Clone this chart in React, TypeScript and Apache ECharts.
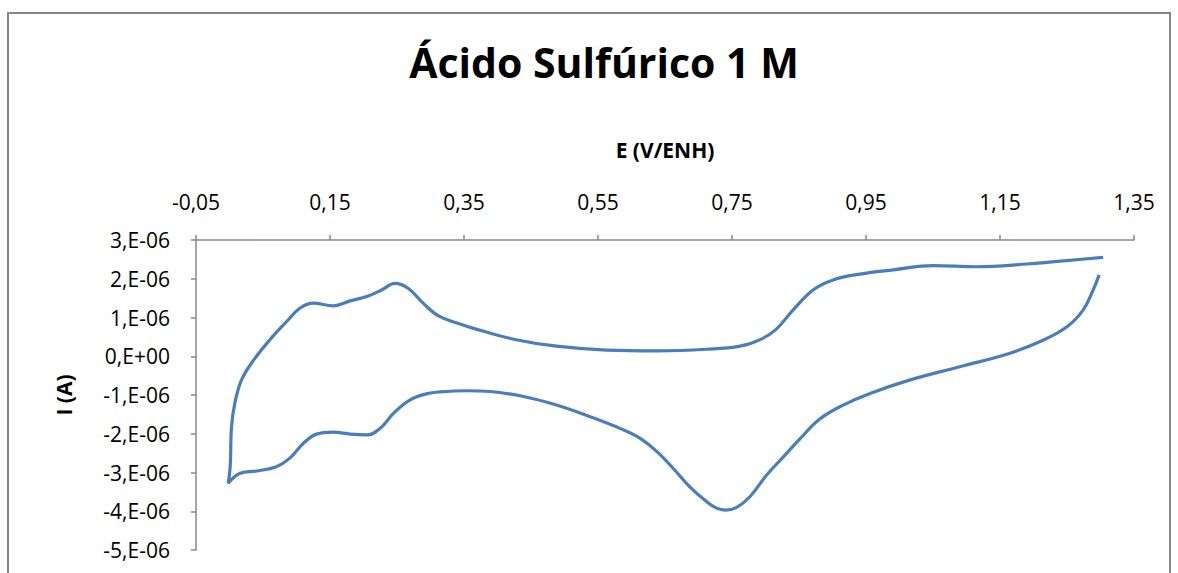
import React, { useEffect, useRef } from "react";
import * as echarts from "echarts";

// Potential E (V/ENH), traced in sweep order (cathodic from 1.30 V, then anodic)
const potential: number[] = [
  1.298, 1.289, 1.274, 1.25, 1.215, 1.165, 1.09, 1.016, 0.956, 0.916, 0.881, 0.852, 0.827,
  0.802, 0.777, 0.757, 0.74, 0.727, 0.712, 0.687, 0.662, 0.638, 0.613, 0.588, 0.538, 0.488,
  0.439, 0.389, 0.354, 0.314, 0.294, 0.269, 0.245, 0.225, 0.205, 0.18, 0.155, 0.13, 0.11,
  0.09, 0.07, 0.041, 0.016, -0.002,
  0.001, 0.003, 0.008, 0.018, 0.036, 0.06, 0.085, 0.105, 0.125, 0.155, 0.18, 0.205, 0.227,
  0.247, 0.267, 0.289, 0.312, 0.344, 0.364, 0.424, 0.488, 0.563, 0.638, 0.712, 0.762, 0.792,
  0.815, 0.84, 0.871, 0.901, 0.941, 0.991, 1.05, 1.115, 1.19, 1.25, 1.304,
];

// Current I (A)
const current: number[] = [
  2.1e-6, 1.71e-6, 1.19e-6, 0.76e-6, 0.42e-6, 0.08e-6, -0.27e-6, -0.61e-6, -0.96e-6,
  -1.26e-6, -1.62e-6, -2.12e-6, -2.59e-6, -3.06e-6, -3.62e-6, -3.9e-6, -3.97e-6, -3.92e-6,
  -3.75e-6, -3.37e-6, -2.89e-6, -2.46e-6, -2.12e-6, -1.9e-6, -1.56e-6, -1.26e-6, -1.04e-6,
  -0.91e-6, -0.89e-6, -0.92e-6, -0.97e-6, -1.13e-6, -1.47e-6, -1.86e-6, -2.03e-6, -2.01e-6,
  -1.96e-6, -2.01e-6, -2.25e-6, -2.63e-6, -2.85e-6, -2.96e-6, -3.02e-6, -3.28e-6,
  -2.85e-6, -1.82e-6, -1.21e-6, -0.61e-6, -0.1e-6, 0.42e-6, 0.89e-6, 1.24e-6, 1.37e-6,
  1.3e-6, 1.43e-6, 1.54e-6, 1.71e-6, 1.88e-6, 1.75e-6, 1.37e-6, 1.04e-6, 0.83e-6, 0.72e-6,
  0.44e-6, 0.26e-6, 0.16e-6, 0.14e-6, 0.18e-6, 0.26e-6, 0.43e-6, 0.68e-6, 1.17e-6, 1.71e-6,
  1.97e-6, 2.12e-6, 2.23e-6, 2.34e-6, 2.31e-6, 2.38e-6, 2.47e-6, 2.55e-6,
];

const xTickValues: number[] = [-0.05, 0.15, 0.35, 0.55, 0.75, 0.95, 1.15, 1.35];
const yTickValues: number[] = [-5e-6, -4e-6, -3e-6, -2e-6, -1e-6, 0, 1e-6, 2e-6, 3e-6];

const titleText = "Ácido Sulfúrico 1 M";
const xName = "E (V/ENH)";
const yName = "I (A)";

export default function App() {
  const ref = useRef<HTMLDivElement>(null);
  useEffect(() => {
    if (!ref.current) return;
    const chart = echarts.init(ref.current, undefined, { renderer: "svg" });
    const axisColor = "#888888";
    const font = "'Open Sans', 'Noto Sans', sans-serif";
    chart.setOption({
      animation: false,
      backgroundColor: "#ffffff",
      title: {
        text: titleText,
        left: 599,
        top: 36,
        textAlign: "center",
        textStyle: { fontFamily: font, fontWeight: "bold", fontSize: 41, color: "#000" },
      },
      graphic: [
        {
          type: "rect",
          shape: { x: 8, y: 13, width: 1162, height: 600 },
          style: { fill: "none", stroke: "#868686", lineWidth: 2 },
          silent: true,
        },
      ],
      grid: { left: 196, right: 44, top: 240, bottom: 23 },
      xAxis: {
        type: "value",
        position: "top",
        min: -0.05,
        max: 1.35,
        name: xName,
        nameLocation: "middle",
        nameGap: 80,
        nameTextStyle: { fontFamily: font, fontWeight: "bold", fontSize: 21, color: "#000" },
        axisLine: { show: true, onZero: false, lineStyle: { color: axisColor, width: 1.5 } },
        axisTick: { show: true, length: 5, customValues: xTickValues, lineStyle: { color: axisColor, width: 1.5 } },
        axisLabel: {
          customValues: xTickValues,
          margin: 28,
          fontFamily: font,
          fontSize: 21,
          color: "#000",
          formatter: (v: number) => v.toFixed(2).replace(".", ","),
        },
        splitLine: { show: false },
      },
      yAxis: {
        type: "value",
        min: -5e-6,
        max: 3e-6,
        name: yName,
        nameLocation: "middle",
        nameGap: 122,
        nameRotate: 90,
        nameTextStyle: { fontFamily: font, fontWeight: "bold", fontSize: 21, color: "#000" },
        axisLine: { show: true, onZero: false, lineStyle: { color: axisColor, width: 1.5 } },
        axisTick: { show: true, length: 5, customValues: yTickValues, lineStyle: { color: axisColor, width: 1.5 } },
        axisLabel: {
          customValues: yTickValues,
          margin: 26,
          fontFamily: font,
          fontSize: 21,
          color: "#000",
          formatter: (v: number) => {
            const n = Math.round(v * 1e6);
            return n === 0 ? "0,E+00" : `${n},E-06`;
          },
        },
        splitLine: { show: false },
      },
      series: [
        {
          type: "line",
          data: potential.map((e, i) => [e, current[i]]),
          showSymbol: false,
          symbol: "none",
          smooth: 0.4,
          lineStyle: { color: "#4a7ebb", width: 3.2 },
        },
      ],
    });
    return () => chart.dispose();
  }, []);
  return (
    <div
      ref={ref}
      style={{ position: "fixed", left: 0, top: 0, width: 1178, height: 573, background: "#fff" }}
    />
  );
}
